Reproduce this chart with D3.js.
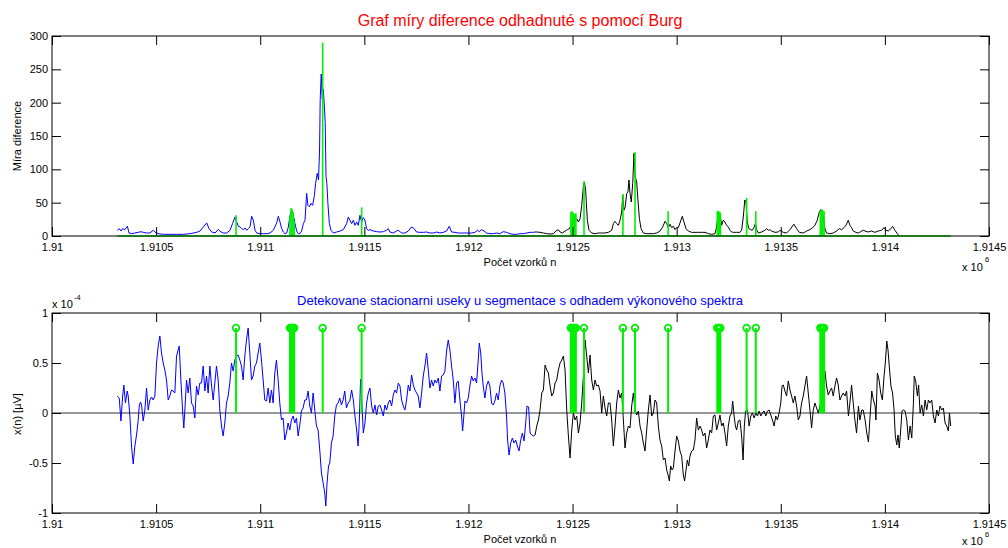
<!DOCTYPE html>
<html>
<head>
<meta charset="utf-8">
<script src="https://cdn.jsdelivr.net/npm/d3@7"></script>
<style>
body { margin: 0; background: #fff; }
svg { display: block; background: #fff; }
text { font-family: "Liberation Sans", Arial, Helvetica, sans-serif; }
</style>
</head>
<body>
<svg width="1008" height="548"></svg>
<script>
// cisla vzorku jsou ulozena jako posun od n0
const n0 = 1910000;

const xTicks = [0, 500, 1000, 1500, 2000, 2500, 3000, 3500, 4000, 4500];
const xTickLabels = ["1.91", "1.9105", "1.911", "1.9115", "1.912", "1.9125", "1.913", "1.9135", "1.914", "1.9145"];
const diffTicks = [0, 50, 100, 150, 200, 250, 300];
const sigTicks = [-1, -0.5, 0, 0.5, 1];
const sigTickLabels = ["-1", "-0.5", "0", "0.5", "1"];

// mira diference (horni graf) - modra cast, pak cerna
const diffBlue = [[314,8.6],[323,11],[331,7.5],[339,11],[350,9.5],[362,14.6],[370,4.5],[382,3.5],[398,4.5],[414,5.5],[426,6.5],[438,5.5],[454,4.5],[470,4.5],[486,8.6],[494,6],[510,3.5],[535,2.5],[567,2.5],[599,2.5],[631,2.5],[663,3.5],[695,5.5],[711,7.5],[727,13.6],[743,19.6],[754,11],[767,6],[783,4.5],[799,10],[807,7],[823,4.5],[839,4.5],[855,8.6],[867,18.6],[879,28.6],[887,21],[895,14.6],[903,13.6],[911,11],[919,9.5],[927,12],[935,8.6],[943,11],[951,13.6],[959,29.6],[967,23.6],[975,8.6],[983,4.5],[999,3.5],[1015,3.5],[1031,3.5],[1047,4.5],[1063,8.6],[1079,19.6],[1087,29.6],[1095,21],[1103,11],[1111,6],[1119,3.5],[1127,4.5],[1135,13.6],[1143,31],[1151,38.7],[1159,31],[1167,18.6],[1175,7.5],[1183,3.5],[1191,3.5],[1199,7.5],[1207,18.6],[1215,23.6],[1223,64],[1229,46],[1236,43.7],[1244,49],[1252,46],[1260,61],[1266,79],[1274,94],[1280,84],[1285,129],[1288,205],[1293,243],[1298,205],[1303,220],[1308,195],[1312,170],[1316,89],[1320,79],[1325,49],[1332,18.6],[1340,8.6],[1351,4.5],[1367,6],[1383,7.5],[1399,9.5],[1415,18.6],[1423,28.6],[1431,23.6],[1439,18.6],[1447,23.6],[1455,16],[1463,21],[1471,16],[1479,31],[1487,21],[1495,27.6],[1503,23.6],[1511,11],[1519,8.6],[1527,9.5],[1543,7.5],[1559,6.5],[1575,6],[1591,6.5],[1607,8.6],[1615,11],[1623,6],[1639,4.5],[1655,7.5],[1663,8.6],[1679,4.5],[1695,4.5],[1711,7.5],[1727,13.6],[1739,11],[1751,6],[1767,5.5],[1783,5.5],[1799,6],[1815,4.5],[1831,4.5],[1847,6],[1863,4.5],[1879,5.5],[1895,7.5],[1908,14.6],[1919,6],[1935,5.5],[1951,4.5],[1967,4.5],[1983,4.5],[1999,4.5],[2015,4.5],[2031,5.5],[2043,8.6],[2052,6.5],[2063,9.5],[2075,7.5],[2087,4.5],[2103,3.5],[2119,3.5],[2135,4.5],[2151,3.5],[2167,6.5],[2183,5.5],[2199,3.5],[2216,2.5],[2232,2.5],[2248,3.5],[2264,3.5],[2280,4.5],[2296,5.5],[2312,5.5],[2320,6]];
const diffBlack = [[2320,6],[2328,6],[2344,5.5],[2360,4.5],[2376,3.5],[2392,3],[2408,3.5],[2420,7.5],[2431,9.5],[2440,6],[2452,4.5],[2464,7.5],[2475,9.5],[2484,11],[2488,13.6],[2496,16],[2504,31],[2512,23.6],[2520,26],[2528,21],[2536,26],[2544,46],[2552,74],[2557,81],[2563,68],[2571,23.6],[2579,8.6],[2592,4.5],[2608,3.5],[2624,4.5],[2640,4.5],[2656,4.5],[2672,5.5],[2688,8.6],[2696,18.6],[2704,22],[2712,18.6],[2720,16],[2728,23.6],[2736,36],[2741,61],[2747,38.7],[2753,43.7],[2760,64],[2766,66],[2771,84],[2776,64],[2782,51],[2789,79],[2795,124],[2801,89],[2808,81],[2814,54],[2821,26],[2829,11],[2840,4.5],[2856,3.5],[2872,3.5],[2888,3.5],[2904,4.5],[2920,7.5],[2933,13.6],[2944,22],[2952,18.6],[2960,12.6],[2968,17.6],[2976,12.6],[2984,14.6],[2992,9.5],[3000,12.6],[3008,12.6],[3016,19.6],[3027,29.6],[3035,21],[3045,11],[3056,7.5],[3072,5.5],[3088,5.5],[3104,5.5],[3120,5.5],[3136,5.5],[3152,3.5],[3168,2.5],[3184,3.5],[3192,13.6],[3200,36],[3208,33.6],[3216,16],[3224,23.6],[3232,21],[3240,16],[3248,13.6],[3256,8.6],[3264,6],[3272,5.5],[3288,5.5],[3304,5.5],[3312,8.6],[3320,28.6],[3327,54],[3333,51],[3339,21],[3347,11],[3355,9.5],[3363,8.6],[3371,12.6],[3378,18.6],[3384,9.5],[3392,4.5],[3408,6],[3424,8.6],[3432,11],[3440,8.6],[3448,9.5],[3456,7.5],[3472,5.5],[3488,6],[3496,8.6],[3512,5.5],[3528,4.5],[3544,9.5],[3563,17.6],[3576,11],[3589,5.5],[3608,4.5],[3624,7.5],[3640,9.5],[3653,12.6],[3664,16],[3675,23.6],[3685,36],[3693,39.7],[3704,28.6],[3712,11],[3720,4.5],[3736,3.5],[3752,4.5],[3768,7.5],[3781,11],[3792,9.5],[3804,12.6],[3813,16],[3824,23.6],[3832,16],[3840,12.6],[3848,7.5],[3861,5.5],[3872,4.5],[3884,6.5],[3896,8.6],[3909,7],[3920,6],[3936,7.5],[3952,5.5],[3968,7.5],[3984,8.6],[3996,12.6],[4005,8.6],[4016,7.5],[4029,11],[4037,14.6],[4048,8.6],[4060,3.5],[4066,1.5]];

// signal x(n) v jednotkach 1e-4 (dolni graf)
const sigBlue = [[313,0.17],[323,0.15],[331,-0.08],[339,0.16],[345,0.28],[353,0.10],[361,0.22],[366,0.17],[374,-0.03],[382,-0.33],[390,-0.51],[398,-0.33],[406,-0.22],[414,-0.07],[419,0.07],[425,0.11],[430,0.08],[438,-0.08],[446,0.03],[454,0.25],[462,0.03],[470,0.13],[478,0.16],[486,0.13],[494,0.17],[502,0.50],[510,0.67],[518,0.77],[526,0.60],[534,0.50],[542,0.43],[550,0.33],[558,0.13],[566,0.17],[574,0.23],[582,0.22],[590,0.20],[598,0.57],[611,0.67],[619,0.33],[627,0.03],[633,-0.15],[640,0.10],[646,0.33],[654,0.20],[662,0.35],[670,0.10],[678,0.07],[686,-0.05],[694,0.27],[702,0.18],[710,0.30],[718,0.30],[726,0.47],[734,0.22],[742,0.37],[750,0.20],[758,0.47],[766,0.28],[774,0.13],[782,0.30],[790,0.47],[798,0.33],[806,0.03],[814,-0.13],[822,-0.23],[830,-0.10],[838,0.10],[846,0.17],[854,0.30],[862,0.50],[870,0.42],[878,0.53],[886,0.57],[894,0.58],[902,0.53],[910,0.47],[918,0.33],[926,0.57],[934,0.73],[942,0.85],[950,0.60],[958,0.33],[966,0.37],[974,0.47],[982,0.50],[990,0.60],[998,0.70],[1006,0.53],[1014,0.33],[1022,0.13],[1030,0.12],[1038,0.25],[1046,0.10],[1054,0.23],[1062,0.10],[1070,0.40],[1078,0.53],[1086,0.33],[1094,0.10],[1102,-0.07],[1110,-0.05],[1118,-0.27],[1126,-0.20],[1134,-0.10],[1142,-0.17],[1150,-0.07],[1158,-0.03],[1166,-0.10],[1174,-0.05],[1182,-0.23],[1190,-0.12],[1198,0.02],[1206,0.05],[1214,0.13],[1222,0.13],[1230,0.22],[1238,0.07],[1246,0.00],[1254,0.20],[1262,0.03],[1270,-0.13],[1278,-0.17],[1286,-0.37],[1294,-0.60],[1302,-0.70],[1310,-0.80],[1315,-0.93],[1321,-0.70],[1328,-0.53],[1334,-0.50],[1342,-0.30],[1350,-0.23],[1358,-0.03],[1366,0.08],[1374,0.10],[1382,0.15],[1390,0.08],[1398,0.13],[1406,0.22],[1414,0.05],[1422,0.10],[1430,0.12],[1439,0.23],[1447,0.13],[1455,-0.03],[1463,-0.17],[1470,-0.33],[1476,-0.07],[1482,0.34],[1489,0.07],[1495,-0.20],[1503,-0.10],[1511,0.10],[1519,0.20],[1527,0.25],[1535,0.07],[1543,0.00],[1551,0.08],[1559,-0.02],[1567,0.07],[1575,0.08],[1583,0.03],[1591,-0.03],[1599,0.08],[1607,0.03],[1615,0.10],[1623,0.13],[1631,0.07],[1639,0.18],[1647,0.23],[1655,0.20],[1663,0.30],[1671,0.27],[1679,0.13],[1687,0.07],[1695,0.03],[1703,0.13],[1711,0.28],[1719,0.22],[1727,0.38],[1735,0.28],[1743,0.23],[1751,0.20],[1759,0.17],[1767,0.05],[1775,0.20],[1783,0.37],[1791,0.47],[1799,0.60],[1807,0.43],[1815,0.25],[1823,0.33],[1831,0.27],[1839,0.33],[1847,0.30],[1855,0.35],[1863,0.22],[1871,0.37],[1879,0.38],[1887,0.42],[1895,0.62],[1903,0.73],[1911,0.63],[1919,0.47],[1927,0.33],[1935,0.10],[1943,0.30],[1951,0.32],[1959,0.13],[1967,-0.03],[1972,-0.18],[1979,0.00],[1983,0.12],[1991,0.10],[1999,0.15],[2007,0.27],[2015,0.37],[2023,0.32],[2031,0.35],[2039,0.30],[2047,0.53],[2052,0.70],[2059,0.60],[2065,0.40],[2071,0.27],[2079,0.15],[2087,0.27],[2095,0.32],[2103,0.27],[2111,0.10],[2119,0.08],[2127,0.12],[2135,0.20],[2143,0.13],[2151,0.27],[2159,0.33],[2167,0.30],[2175,0.20],[2183,-0.03],[2188,-0.27],[2195,-0.42],[2203,-0.30],[2211,-0.25],[2219,-0.30],[2227,-0.27],[2235,-0.33],[2243,-0.38],[2251,-0.27],[2259,-0.20],[2267,-0.28],[2275,-0.10],[2281,0.07],[2289,0.06],[2296,-0.20],[2304,-0.22],[2312,-0.23],[2320,-0.22]];
const sigBlack = [[2320,-0.22],[2328,-0.13],[2336,-0.07],[2344,0.03],[2352,0.20],[2360,0.23],[2368,0.48],[2376,0.43],[2384,0.40],[2392,0.27],[2400,0.17],[2408,0.20],[2416,0.30],[2424,0.33],[2432,0.43],[2440,0.50],[2448,0.53],[2456,0.57],[2464,0.43],[2472,0.03],[2480,-0.23],[2488,-0.45],[2496,-0.17],[2504,0.00],[2512,-0.07],[2520,-0.03],[2528,-0.20],[2536,-0.10],[2544,0.10],[2552,0.37],[2560,0.73],[2568,0.57],[2576,0.40],[2584,0.58],[2592,0.33],[2600,0.23],[2608,0.33],[2616,0.27],[2624,0.28],[2632,0.22],[2640,0.00],[2648,0.17],[2656,0.05],[2664,-0.03],[2672,0.10],[2680,0.10],[2688,-0.07],[2696,-0.33],[2704,-0.13],[2712,0.10],[2720,0.23],[2728,0.15],[2736,0.20],[2744,-0.07],[2752,-0.35],[2760,-0.20],[2768,-0.13],[2776,-0.15],[2784,0.07],[2792,0.20],[2800,0.03],[2808,-0.02],[2816,0.02],[2824,-0.13],[2832,-0.20],[2840,-0.30],[2848,-0.38],[2856,-0.17],[2864,0.03],[2872,0.18],[2880,-0.03],[2888,0.00],[2896,0.13],[2904,0.10],[2912,-0.13],[2920,-0.27],[2928,-0.33],[2936,-0.47],[2944,-0.45],[2952,-0.57],[2960,-0.63],[2965,-0.68],[2971,-0.53],[2978,-0.57],[2984,-0.55],[2992,-0.38],[3000,-0.23],[3008,-0.28],[3016,-0.38],[3024,-0.43],[3032,-0.62],[3038,-0.68],[3045,-0.57],[3051,-0.47],[3058,-0.53],[3064,-0.43],[3072,-0.38],[3080,-0.37],[3088,-0.27],[3096,-0.05],[3104,-0.17],[3112,-0.13],[3120,-0.17],[3128,-0.23],[3136,-0.20],[3144,-0.35],[3152,-0.27],[3160,-0.17],[3168,-0.20],[3176,-0.03],[3184,-0.02],[3192,-0.17],[3200,-0.10],[3208,-0.02],[3216,-0.13],[3224,-0.10],[3232,-0.20],[3240,-0.33],[3248,-0.13],[3256,-0.03],[3264,0.00],[3269,0.12],[3276,-0.03],[3282,-0.13],[3288,-0.17],[3296,-0.08],[3304,-0.07],[3312,-0.23],[3319,-0.47],[3325,-0.13],[3331,0.02],[3340,0.03],[3348,-0.13],[3356,-0.03],[3364,0.00],[3372,-0.05],[3380,0.00],[3388,-0.03],[3396,0.02],[3404,-0.03],[3412,0.00],[3420,0.02],[3428,-0.03],[3436,0.02],[3444,0.03],[3452,-0.02],[3460,-0.07],[3468,-0.13],[3476,-0.03],[3484,-0.07],[3492,0.00],[3500,0.10],[3506,0.27],[3512,0.28],[3520,0.22],[3528,0.17],[3536,0.32],[3544,0.23],[3552,0.17],[3560,0.10],[3568,0.17],[3576,0.07],[3584,-0.07],[3592,-0.03],[3600,0.10],[3608,0.17],[3616,0.27],[3624,0.37],[3632,0.20],[3640,0.03],[3648,-0.15],[3656,0.03],[3664,0.10],[3672,0.05],[3680,0.00],[3692,0.10],[3701,0.27],[3712,0.42],[3720,0.27],[3728,0.18],[3736,0.22],[3744,0.25],[3752,0.17],[3760,0.27],[3768,0.35],[3776,0.28],[3784,0.13],[3792,0.17],[3800,0.20],[3808,0.17],[3816,0.22],[3825,-0.03],[3832,0.10],[3840,0.28],[3848,0.10],[3856,-0.07],[3864,-0.20],[3873,0.07],[3880,-0.07],[3889,0.03],[3896,0.03],[3905,-0.07],[3913,-0.20],[3921,-0.29],[3929,-0.03],[3937,0.22],[3945,0.13],[3953,0.07],[3957,-0.07],[3964,0.40],[3972,0.33],[3980,0.20],[3988,0.13],[3996,0.37],[4002,0.50],[4009,0.72],[4015,0.63],[4021,0.47],[4029,0.27],[4037,0.20],[4044,0.03],[4050,-0.23],[4057,-0.32],[4063,-0.22],[4069,-0.35],[4076,-0.17],[4082,0.02],[4089,0.03],[4097,0.02],[4105,-0.07],[4113,-0.27],[4121,-0.13],[4129,-0.25],[4137,0.10],[4141,0.37],[4148,0.32],[4156,0.17],[4162,0.28],[4169,0.00],[4177,0.08],[4185,-0.03],[4193,0.13],[4201,0.03],[4209,0.13],[4217,0.10],[4225,0.13],[4233,-0.03],[4241,-0.10],[4249,0.03],[4257,-0.03],[4265,0.07],[4273,0.03],[4281,0.05],[4289,-0.10],[4297,-0.13],[4305,-0.18],[4310,0.00],[4316,-0.13]];

// detekovane hranice useku
const detPos  = [884, 1143, 1148, 1153, 1158, 1163, 1300, 1487, 2492, 2498, 2504, 2510, 2516, 2555, 2742, 2800, 2959, 3195, 3200, 3205, 3210, 3336, 3380, 3690, 3696, 3702, 3708];
const detDiff = [31, 30, 42, 40, 36, 22, 290, 43, 36, 37, 35, 33, 34, 82, 63, 126, 37, 37, 38, 36, 35, 57, 37, 38, 40, 39, 37];
const stemLevel = 0.85;
const greenSpan = [313, 4316];

const svg = d3.select("svg");
const green = "#00f000";

const x = d3.scaleLinear().domain([n0, n0 + 4500]).range([52, 989]);
const yDiff = d3.scaleLinear().domain([0, 300]).range([236, 36]);
const ySig = d3.scaleLinear().domain([-1, 1]).range([513, 313]);

const lineDiff = d3.line().x(d => x(n0 + d[0])).y(d => yDiff(d[1]));
const lineSig = d3.line().x(d => x(n0 + d[0])).y(d => ySig(d[1]));

function styleAxis(g){
    g.select(".domain").remove();
    g.attr("color", "#000")
	.attr("font-size", 11)
	.attr("font-family", "'Liberation Sans', Arial, sans-serif");
    g.selectAll("line").attr("stroke-width", 1);
}

function drawAxes(y, yTickVals, yFmt){
    const yb = y.range()[0], yt = y.range()[1];
    const xv = xTicks.map(d => n0 + d);

    svg.append("g").attr("transform", "translate(0," + yb + ")")
	.call(d3.axisBottom(x).tickValues(xv).tickFormat((d, i) => xTickLabels[i])
	      .tickSizeInner(-9).tickSizeOuter(0).tickPadding(7))
	.call(styleAxis);
    svg.append("g").attr("transform", "translate(0," + yt + ")")
	.call(d3.axisTop(x).tickValues(xv).tickFormat("").tickSizeInner(-9).tickSizeOuter(0))
	.call(styleAxis);
    svg.append("g").attr("transform", "translate(52,0)")
	.call(d3.axisLeft(y).tickValues(yTickVals).tickFormat(yFmt)
	      .tickSizeInner(-9).tickSizeOuter(0).tickPadding(4))
	.call(styleAxis);
    svg.append("g").attr("transform", "translate(989,0)")
	.call(d3.axisRight(y).tickValues(yTickVals).tickFormat("").tickSizeInner(-9).tickSizeOuter(0))
	.call(styleAxis);

    // ramecek
    svg.append("rect")
	.attr("x", 52).attr("y", yt)
	.attr("width", 989 - 52).attr("height", yb - yt)
	.attr("fill", "none").attr("stroke", "#000").attr("stroke-width", 1);
}

/////////////////////////////
// horni graf - mira diference
/////////////////////////////
svg.append("path").datum(diffBlue)
    .attr("d", lineDiff).attr("fill", "none").attr("stroke", "#0000ff").attr("stroke-width", 1);
svg.append("path").datum(diffBlack)
    .attr("d", lineDiff).attr("fill", "none").attr("stroke", "#000").attr("stroke-width", 1);

// zelena cara s hranicemi useku
svg.append("line")
    .attr("x1", x(n0 + greenSpan[0])).attr("x2", x(n0 + greenSpan[1]))
    .attr("y1", yDiff(0)).attr("y2", yDiff(0))
    .attr("stroke", green).attr("stroke-width", 1.5);
svg.selectAll(".spike").data(detPos).enter()
    .append("line").attr("class", "spike")
    .attr("x1", d => x(n0 + d)).attr("x2", d => x(n0 + d))
    .attr("y1", yDiff(0)).attr("y2", (d, i) => yDiff(detDiff[i]))
    .attr("stroke", green).attr("stroke-width", 1.6);

drawAxes(yDiff, diffTicks, d => d);

/////////////////////////////
// dolni graf - signal
/////////////////////////////
svg.append("line")
    .attr("x1", 52).attr("x2", 989)
    .attr("y1", ySig(0)).attr("y2", ySig(0))
    .attr("stroke", "#333").attr("stroke-width", 1.2);

svg.append("path").datum(sigBlue)
    .attr("d", lineSig).attr("fill", "none").attr("stroke", "#0000ff").attr("stroke-width", 1);
svg.append("path").datum(sigBlack)
    .attr("d", lineSig).attr("fill", "none").attr("stroke", "#000").attr("stroke-width", 1);

svg.selectAll(".stem").data(detPos).enter()
    .append("line").attr("class", "stem")
    .attr("x1", d => x(n0 + d)).attr("x2", d => x(n0 + d))
    .attr("y1", ySig(0)).attr("y2", ySig(stemLevel))
    .attr("stroke", green).attr("stroke-width", 2);
svg.selectAll(".mark").data(detPos).enter()
    .append("circle").attr("class", "mark")
    .attr("cx", d => x(n0 + d)).attr("cy", ySig(stemLevel)).attr("r", 3.3)
    .attr("fill", "none").attr("stroke", green).attr("stroke-width", 1.8);

drawAxes(ySig, sigTicks, (d, i) => sigTickLabels[i]);

/////////////////////////////
// popisky
/////////////////////////////
svg.append("text").text("Graf míry diference odhadnuté s pomocí Burg")
    .attr("x", 520).attr("y", 26).attr("text-anchor", "middle")
    .attr("font-size", 16).attr("fill", "#ff0000");
svg.append("text").text("Detekovane stacionarni useky u segmentace s odhadem výkonového spektra")
    .attr("x", 520).attr("y", 305).attr("text-anchor", "middle")
    .attr("font-size", 13).attr("fill", "#0000ff");

svg.append("text").text("Míra diference")
    .attr("transform", "translate(21,136) rotate(-90)").attr("text-anchor", "middle")
    .attr("font-size", 11);
svg.append("text").text("x(n) [µV]")
    .attr("transform", "translate(21,414) rotate(-90)").attr("text-anchor", "middle")
    .attr("font-size", 11);

[266, 543].forEach(function(yy){
    svg.append("text").text("Počet vzorků n")
	.attr("x", 520).attr("y", yy).attr("text-anchor", "middle").attr("font-size", 11);
});

// exponenty
[[271, 262], [545, 537]].forEach(function(p){
    svg.append("text").text("x 10").attr("x", 962).attr("y", p[0]).attr("font-size", 11);
    svg.append("text").text("6").attr("x", 985).attr("y", p[1]).attr("font-size", 7.5);
});
svg.append("text").text("x 10").attr("x", 52).attr("y", 307.5).attr("font-size", 11);
svg.append("text").text("-4").attr("x", 74).attr("y", 299.5).attr("font-size", 7.5);
</script>
</body>
</html>
